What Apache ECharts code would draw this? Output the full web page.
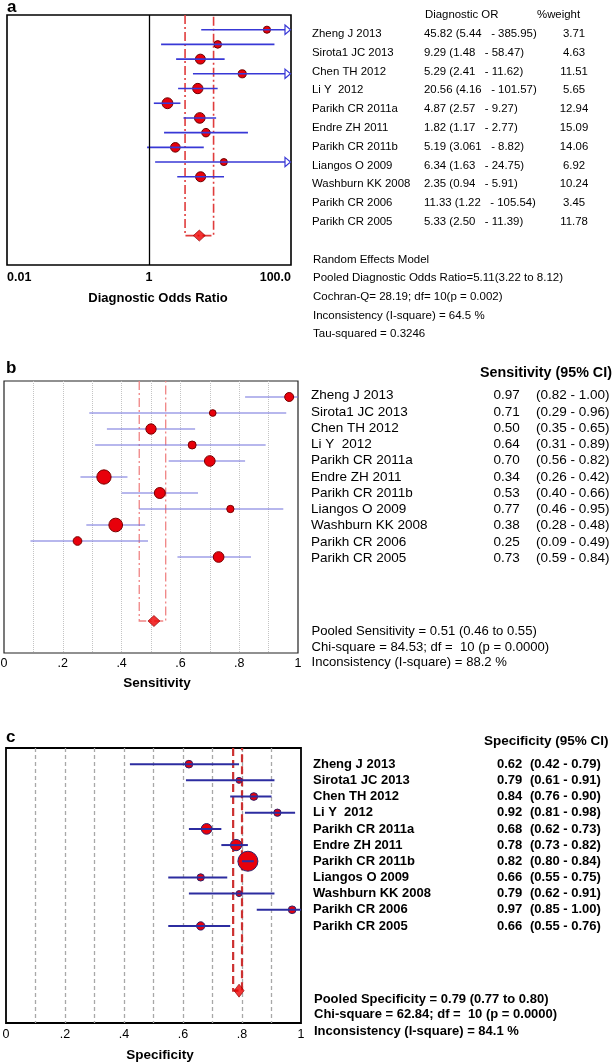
<!DOCTYPE html>
<html>
<head>
<meta charset="utf-8">
<script src="https://cdn.jsdelivr.net/npm/echarts@6/dist/echarts.min.js"></script>
<style>
html,body{margin:0;padding:0;background:#fff;}
#chart{width:616px;height:1063px;}
</style>
</head>
<body>
<div id="chart"></div>
<script>
// ---------- DATA ----------
const studies = ['Zheng J 2013','Sirota1 JC 2013','Chen TH 2012','Li Y  2012','Parikh CR 2011a','Endre ZH 2011','Parikh CR 2011b','Liangos O 2009','Washburn KK 2008','Parikh CR 2006','Parikh CR 2005'];

const dor       = [45.82, 9.29, 5.29, 20.56, 4.87, 1.82, 5.19, 6.34, 2.35, 11.33, 5.33];
const dorLo     = [5.44, 1.48, 2.41, 4.16, 2.57, 1.17, 3.061, 1.63, 0.94, 1.22, 2.50];
const dorHi     = [385.95, 58.47, 11.62, 101.57, 9.27, 2.77, 8.82, 24.75, 5.91, 105.54, 11.39];
const dorWeight = [3.71, 4.63, 11.51, 5.65, 12.94, 15.09, 14.06, 6.92, 10.24, 3.45, 11.78];
const dorPooled = [5.11, 3.22, 8.12];
const dorStats  = {q: 28.19, df: 10, p: '0.002', i2: 64.5, tau2: 0.3246};

const sens       = [0.97, 0.71, 0.50, 0.64, 0.70, 0.34, 0.53, 0.77, 0.38, 0.25, 0.73];
const sensLo     = [0.82, 0.29, 0.35, 0.31, 0.56, 0.26, 0.40, 0.46, 0.28, 0.09, 0.59];
const sensHi     = [1.00, 0.96, 0.65, 0.89, 0.82, 0.42, 0.66, 0.95, 0.48, 0.49, 0.84];
const sensWeight = [9.0, 5.0, 11.8, 7.1, 12.7, 22.7, 13.4, 5.9, 20.9, 8.4, 12.7]; // estimated relative weights
const sensPooled = [0.51, 0.46, 0.55];
const sensStats  = {chi: 84.53, df: 10, p: '0.0000', i2: 88.2};

const spec       = [0.62, 0.79, 0.84, 0.92, 0.68, 0.78, 0.82, 0.66, 0.79, 0.97, 0.66];
const specLo     = [0.42, 0.61, 0.76, 0.81, 0.62, 0.73, 0.80, 0.55, 0.62, 0.85, 0.55];
const specHi     = [0.79, 0.91, 0.90, 0.98, 0.73, 0.82, 0.84, 0.75, 0.91, 1.00, 0.76];
const specWeight = [6.6, 4.0, 6.6, 5.9, 12.7, 14.2, 44.4, 5.9, 4.0, 6.6, 7.7]; // estimated relative weights
const specPooled = [0.79, 0.77, 0.80];
const specStats  = {chi: 62.84, df: 10, p: '0.0000', i2: 84.1};

const POOLED_ROW = 14;

// ---------- HELPERS ----------
const FONT = '"Liberation Sans", Arial, Helvetica, sans-serif';
function fmt(v){ return Math.abs(Math.round(v*100) - v*100) < 1e-6 ? v.toFixed(2) : String(v); }
function f2(v){ return v.toFixed(2); }

function ciRender(xmax, color, width, arrow){
  return function(params, api){
    const lo = api.value(0), hi = api.value(1), y = api.value(2);
    const p1 = api.coord([lo, y]);
    const p2 = api.coord([Math.min(hi, xmax), y]);
    const children = [];
    const over = hi > xmax && arrow;
    children.push({type:'line', shape:{x1:p1[0], y1:p1[1], x2: over ? p2[0]-6 : p2[0], y2:p2[1]},
      style:{stroke:color, lineWidth:width}});
    if (over) {
      children.push({type:'polygon', shape:{points:[[p2[0]-6,p2[1]-4.7],[p2[0]-0.5,p2[1]],[p2[0]-6,p2[1]+4.7]]},
        style:{fill:'#fff', stroke:color, lineWidth:1.2}});
    }
    return {type:'group', children};
  };
}
function pooledRender(color, width, dash){
  return function(params, api){
    const lo = api.value(1), hi = api.value(2), y = api.value(3);
    const a = api.coord([lo, -1]), b = api.coord([lo, y]), c = api.coord([hi, y]), d = api.coord([hi, -1]);
    return {type:'polyline', shape:{points:[a,b,c,d]}, style:{stroke:color, lineWidth:width, lineDash:dash, fill:null}};
  };
}

const rows = studies.map((s,i)=>i);

// ---------- OPTION ----------
const grids = [
  {left:7, top:15, width:284, height:250, show:true, borderColor:'#000', borderWidth:1.6, backgroundColor:'#fff', outerBoundsMode:'none', containLabel:false},
  {left:4, top:381, width:294, height:272, show:true, borderColor:'#222', borderWidth:1.2, backgroundColor:'#fff', outerBoundsMode:'none', containLabel:false},
  {left:6, top:748, width:295, height:275, show:true, borderColor:'#000', borderWidth:1.8, backgroundColor:'#fff', outerBoundsMode:'none', containLabel:false}
];

function fracAxis(gi, splitStyle, labelMargin){
  return {
    type:'value', gridIndex:gi, min:0, max:1, interval:0.1,
    axisLine:{show:false}, axisTick:{show:false},
    splitLine:{show:true, showMinLine:false, showMaxLine:false, lineStyle:splitStyle},
    axisLabel:{margin:labelMargin, color:'#000', fontSize:12.5, fontFamily:FONT, showMinLabel:true, showMaxLabel:true, hideOverlap:false,
      formatter:function(v){ const k=Math.round(v*10); if(k%2) return ''; if(k===0) return '0'; if(k===10) return '1'; return '.'+k; }}
  };
}

const xAxes = [
  {type:'log', gridIndex:0, min:0.01, max:100, logBase:10,
   axisLine:{show:false}, axisTick:{show:false}, splitLine:{show:false},
   axisLabel:{margin:6, color:'#000', fontSize:12.5, fontWeight:'bold', fontFamily:FONT, alignMinLabel:'left', alignMaxLabel:'right', showMinLabel:true, showMaxLabel:true,
     formatter:function(v){ const e=Math.round(Math.log10(v)); if(e===-2) return '0.01'; if(e===0) return '1'; if(e===2) return '100.0'; return ''; }}},
  fracAxis(1, {type:'dotted', color:'#c4c4c4', width:1}, 4),
  fracAxis(2, {type:[4,3], color:'#a8a8a8', width:1.3}, 5)
];
const yAxes = [0,1,2].map(gi=>({type:'value', gridIndex:gi, min:-1, max:16, inverse:true, show:false, splitLine:{show:false}}));

function markerSeries(gi, vals, weights, sizeFn, z, borderColor){
  return {type:'scatter', xAxisIndex:gi, yAxisIndex:gi, z:z,
    data: vals.map((v,i)=>[v, rows[i], weights[i]]),
    symbol:'circle', symbolSize:function(val){ return sizeFn(val[2]); },
    itemStyle:{color:'#e8000b', borderColor:borderColor, borderWidth:1, opacity:1}, silent:true};
}
function ciSeries(gi, lo, hi, xmax, color, width, arrow, z){
  return {type:'custom', xAxisIndex:gi, yAxisIndex:gi, z:z, silent:true, clip:false,
    data: lo.map((l,i)=>[l, hi[i], rows[i]]),
    encode:{x:[0,1], y:2},
    renderItem: ciRender(xmax, color, width, arrow)};
}
function pooledSeries(gi, pooled, color, width, dash, z){
  return {type:'custom', xAxisIndex:gi, yAxisIndex:gi, z:z, silent:true, clip:false,
    data:[[pooled[0], pooled[1], pooled[2], POOLED_ROW]],
    encode:{x:[0,1,2], y:3},
    renderItem: pooledRender(color, width, dash)};
}
function diamondSeries(gi, pooled, size, z){
  return {type:'scatter', xAxisIndex:gi, yAxisIndex:gi, z:z, silent:true,
    data:[[pooled[0], POOLED_ROW]], symbol:'diamond', symbolSize:size,
    itemStyle:{color:'#ee0000', borderColor:'#8a0000', borderWidth:0.8}};
}

const series = [
  // panel a
  Object.assign(markerSeries(0, dor, dorWeight, w=>3.5+1.9*Math.sqrt(w), 3, '#6a0000'), {
    markLine:{silent:true, symbol:'none', label:{show:false}, animation:false,
      lineStyle:{color:'#000', type:'solid', width:1.3}, data:[{xAxis:1}]}}),
  ciSeries(0, dorLo, dorHi, 100, '#3838d6', 1.6, true, 4),
  pooledSeries(0, dorPooled, '#e03c3c', 1.6, [9,3,2,3], 2),
  diamondSeries(0, dorPooled, [12,11], 5),
  // panel b
  ciSeries(1, sensLo, sensHi, 1, '#7070dc', 1.2, false, 2),
  markerSeries(1, sens, sensWeight, w=>3*Math.sqrt(w), 3, '#7a0000'),
  pooledSeries(1, sensPooled, '#f08484', 1.3, [9,3,2,3], 1),
  diamondSeries(1, sensPooled, [12,11], 5),
  // panel c
  markerSeries(2, spec, specWeight, w=>3*Math.sqrt(w), 2, '#30206a'),
  ciSeries(2, specLo, specHi, 1, '#2c2ca0', 2, false, 3),
  pooledSeries(2, specPooled, '#cc3030', 2.2, [8,4], 1),
  diamondSeries(2, specPooled, [10,13], 5)
];

// ---------- TEXT ----------
const graphic = [];
function txt(x, y, text, size, weight, align){
  graphic.push({type:'text', x:x, y:y, silent:true, z:100,
    style:{text:text, fontSize:size, fontWeight:weight||'normal', fontFamily:FONT, fill:'#000', align:align||'left', verticalAlign:'middle'}});
}
// panel letters
txt(7, 7, 'a', 17, 'bold');
txt(6, 368, 'b', 17, 'bold');
txt(6, 737, 'c', 17, 'bold');
// axis titles
txt(158, 298, 'Diagnostic Odds Ratio', 13, 'bold', 'center');
txt(157, 683, 'Sensitivity', 13.5, 'bold', 'center');
txt(160, 1055, 'Specificity', 13.5, 'bold', 'center');

// panel a table
txt(425, 15, 'Diagnostic OR', 11.4);
txt(537, 15, '%weight', 11.4);
studies.forEach((s,i)=>{
  const y = 34 + i*18.77;
  txt(312, y, s, 11.4);
  txt(424, y, fmt(dor[i]) + ' (' + fmt(dorLo[i]) + '   - ' + fmt(dorHi[i]) + ')', 11.4);
  txt(574, y, fmt(dorWeight[i]), 11.4, 'normal', 'center');
});
txt(313, 260, 'Random Effects Model', 11.5);
txt(313, 278, 'Pooled Diagnostic Odds Ratio=' + f2(dorPooled[0]) + '(' + f2(dorPooled[1]) + ' to ' + f2(dorPooled[2]) + ')', 11.5);
txt(313, 296.5, 'Cochran-Q= ' + f2(dorStats.q) + '; df= ' + dorStats.df + '(p = ' + dorStats.p + ')', 11.5);
txt(313, 315.5, 'Inconsistency (I-square) = ' + dorStats.i2.toFixed(1) + ' %', 11.5);
txt(313, 334, 'Tau-squared = ' + dorStats.tau2, 11.5);

// panel b table
txt(480, 373, 'Sensitivity (95% CI)', 14.3, 'bold');
studies.forEach((s,i)=>{
  const y = 395.7 + i*16.26;
  txt(311, y, s, 13.5);
  txt(493.5, y, f2(sens[i]), 13.5);
  txt(536, y, '(' + f2(sensLo[i]) + ' - ' + f2(sensHi[i]) + ')', 13.5);
});
txt(311.5, 631.7, 'Pooled Sensitivity = ' + f2(sensPooled[0]) + ' (' + f2(sensPooled[1]) + ' to ' + f2(sensPooled[2]) + ')', 13.1);
txt(311.5, 647.5, 'Chi-square = ' + f2(sensStats.chi) + '; df =  ' + sensStats.df + ' (p = ' + sensStats.p + ')', 13.1);
txt(311.5, 662.7, 'Inconsistency (I-square) = ' + sensStats.i2.toFixed(1) + ' %', 13.1);

// panel c table
txt(484, 741, 'Specificity (95% CI)', 13.5, 'bold');
studies.forEach((s,i)=>{
  const y = 764.3 + i*16.17;
  txt(313, y, s, 13, 'bold');
  txt(497, y, f2(spec[i]), 13, 'bold');
  txt(530, y, '(' + f2(specLo[i]) + ' - ' + f2(specHi[i]) + ')', 13, 'bold');
});
txt(314, 999.5, 'Pooled Specificity = ' + f2(specPooled[0]) + ' (' + f2(specPooled[1]) + ' to ' + f2(specPooled[2]) + ')', 13, 'bold');
txt(314, 1014.7, 'Chi-square = ' + f2(specStats.chi) + '; df =  ' + specStats.df + ' (p = ' + specStats.p + ')', 13, 'bold');
txt(314, 1031.7, 'Inconsistency (I-square) = ' + specStats.i2.toFixed(1) + ' %', 13, 'bold');

const chart = echarts.init(document.getElementById('chart'), null, {renderer:'canvas'});
chart.setOption({
  animation:false,
  backgroundColor:'#fff',
  grid:grids, xAxis:xAxes, yAxis:yAxes, series:series, graphic:graphic
});
</script>
</body>
</html>
